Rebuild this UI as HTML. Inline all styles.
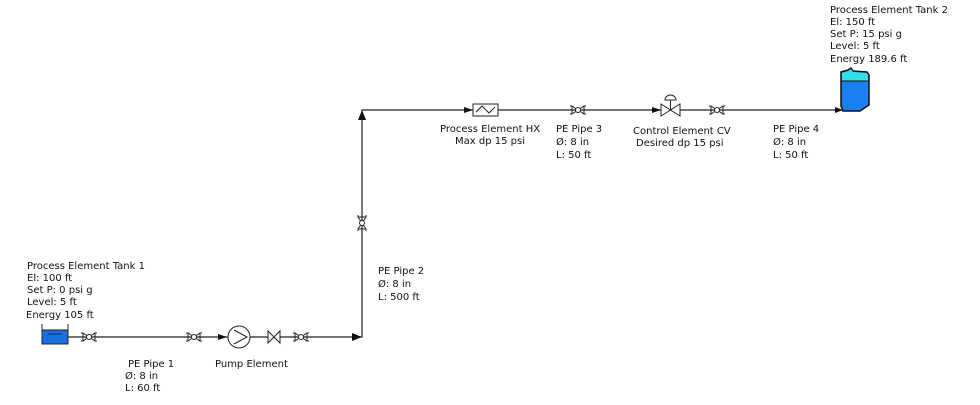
<!DOCTYPE html>
<html><head><style>
body{margin:0;background:#fff;width:980px;height:400px;overflow:hidden}
svg text{font-family:"DejaVu Sans","Liberation Sans",sans-serif;font-size:10px;fill:#111}
</style></head><body>
<svg width="980" height="400" viewBox="0 0 980 400" xmlns="http://www.w3.org/2000/svg">
<g stroke="#222" stroke-width="1.2" fill="none">
<polyline points="68,337 362,337 362,110 843,110"/>
</g>
<!-- Tank1 -->
<rect x="42" y="330" width="26" height="14" fill="#1a6fe0" stroke="#222"/>
<line x1="42" y1="324" x2="42" y2="344" stroke="#222"/>
<line x1="68" y1="324" x2="68" y2="344" stroke="#222"/>
<line x1="48" y1="334" x2="62" y2="334" stroke="#0a2a70"/>
<!-- valves -->
<g fill="#fff" stroke="#222" stroke-width="1">
<g transform="translate(89,337)"><path d="M-8,-4 L-6,-4 L6,4 L8,4 M-8,4 L-6,4 L6,-4 L8,-4 M-6,-4 L-6,4 M6,-4 L6,4"/><circle r="2.5"/></g>
<g transform="translate(194,337)"><path d="M-8,-4 L-6,-4 L6,4 L8,4 M-8,4 L-6,4 L6,-4 L8,-4 M-6,-4 L-6,4 M6,-4 L6,4"/><circle r="2.5"/></g>
<g transform="translate(301,337)"><path d="M-8,-4 L-6,-4 L6,4 L8,4 M-8,4 L-6,4 L6,-4 L8,-4 M-6,-4 L-6,4 M6,-4 L6,4"/><circle r="2.5"/></g>
<g transform="translate(362,223) rotate(90)"><path d="M-8,-4 L-6,-4 L6,4 L8,4 M-8,4 L-6,4 L6,-4 L8,-4 M-6,-4 L-6,4 M6,-4 L6,4"/><circle r="2.5"/></g>
<g transform="translate(578,110)"><path d="M-8,-4 L-6,-4 L6,4 L8,4 M-8,4 L-6,4 L6,-4 L8,-4 M-6,-4 L-6,4 M6,-4 L6,4"/><circle r="2.5"/></g>
<g transform="translate(717,110)"><path d="M-8,-4 L-6,-4 L6,4 L8,4 M-8,4 L-6,4 L6,-4 L8,-4 M-6,-4 L-6,4 M6,-4 L6,4"/><circle r="2.5"/></g>
<!-- pump -->
<circle cx="239" cy="337" r="11"/>
<path d="M234,330 L247,337 L234,344"/>
<!-- check valve -->
<path d="M268,331 L268,343 L280,331 L280,343 Z"/>
<!-- HX -->
<rect x="473" y="104" width="25" height="12"/>
<path d="M476,112 L482,106 L489,113 L495,107"/>
<!-- CV -->
<path d="M661,104 L661,116 L680,104 L680,116 Z"/>
<line x1="670.5" y1="110" x2="670.5" y2="100"/>
<path d="M665,100 A5.5,5 0 0 1 676,100 Z"/>
</g>
<g fill="#111">
<path d="M218,334 L227,337 L218,340Z"/>
<path d="M352,333 L362,337 L352,341Z"/>
<path d="M358,120 L362,110 L366,120Z"/>
<path d="M464,107 L473,110 L464,113Z"/>
<path d="M652,107 L661,110 L652,113Z"/>
<path d="M835,107 L843,110 L835,113Z"/>
</g>
<!-- Tank2 -->
<path d="M841,72 L848,70 L851,68 L853,71 L867,72 L869,75 L869,105 L860,111 L843,111 L841,106 Z" fill="#1a7ff0" stroke="#111" stroke-width="1.5"/>
<path d="M842,73 L848,71 L851,69 L853,72 L867,73 L868,75 L868,81 L842,81 Z" fill="#33e0e8"/>
<line x1="841" y1="81" x2="869" y2="81" stroke="#111"/>
<!-- text -->
<text x="27" y="269">Process Element Tank 1</text>
<text x="27" y="281">El: 100 ft</text>
<text x="27" y="293">Set P: 0 psi g</text>
<text x="27" y="305">Level: 5 ft</text>
<text x="26" y="318">Energy 105 ft</text>
<text x="128" y="367">PE Pipe 1</text>
<text x="125" y="379">Ø: 8 in</text>
<text x="125" y="391">L: 60 ft</text>
<text x="215" y="367">Pump Element</text>
<text x="378" y="274">PE Pipe 2</text>
<text x="378" y="287">Ø: 8 in</text>
<text x="378" y="300">L: 500 ft</text>
<text x="440" y="132">Process Element HX</text>
<text x="455" y="144">Max dp 15 psi</text>
<text x="556" y="132">PE Pipe 3</text>
<text x="556" y="145">Ø: 8 in</text>
<text x="556" y="158">L: 50 ft</text>
<text x="633" y="134">Control Element CV</text>
<text x="636" y="146">Desired dp 15 psi</text>
<text x="773" y="132">PE Pipe 4</text>
<text x="773" y="145">Ø: 8 in</text>
<text x="773" y="158">L: 50 ft</text>
<text x="830" y="13">Process Element Tank 2</text>
<text x="830" y="25">El: 150 ft</text>
<text x="830" y="37">Set P: 15 psi g</text>
<text x="830" y="49">Level: 5 ft</text>
<text x="830" y="62">Energy 189.6 ft</text>
</svg>
</body></html>
